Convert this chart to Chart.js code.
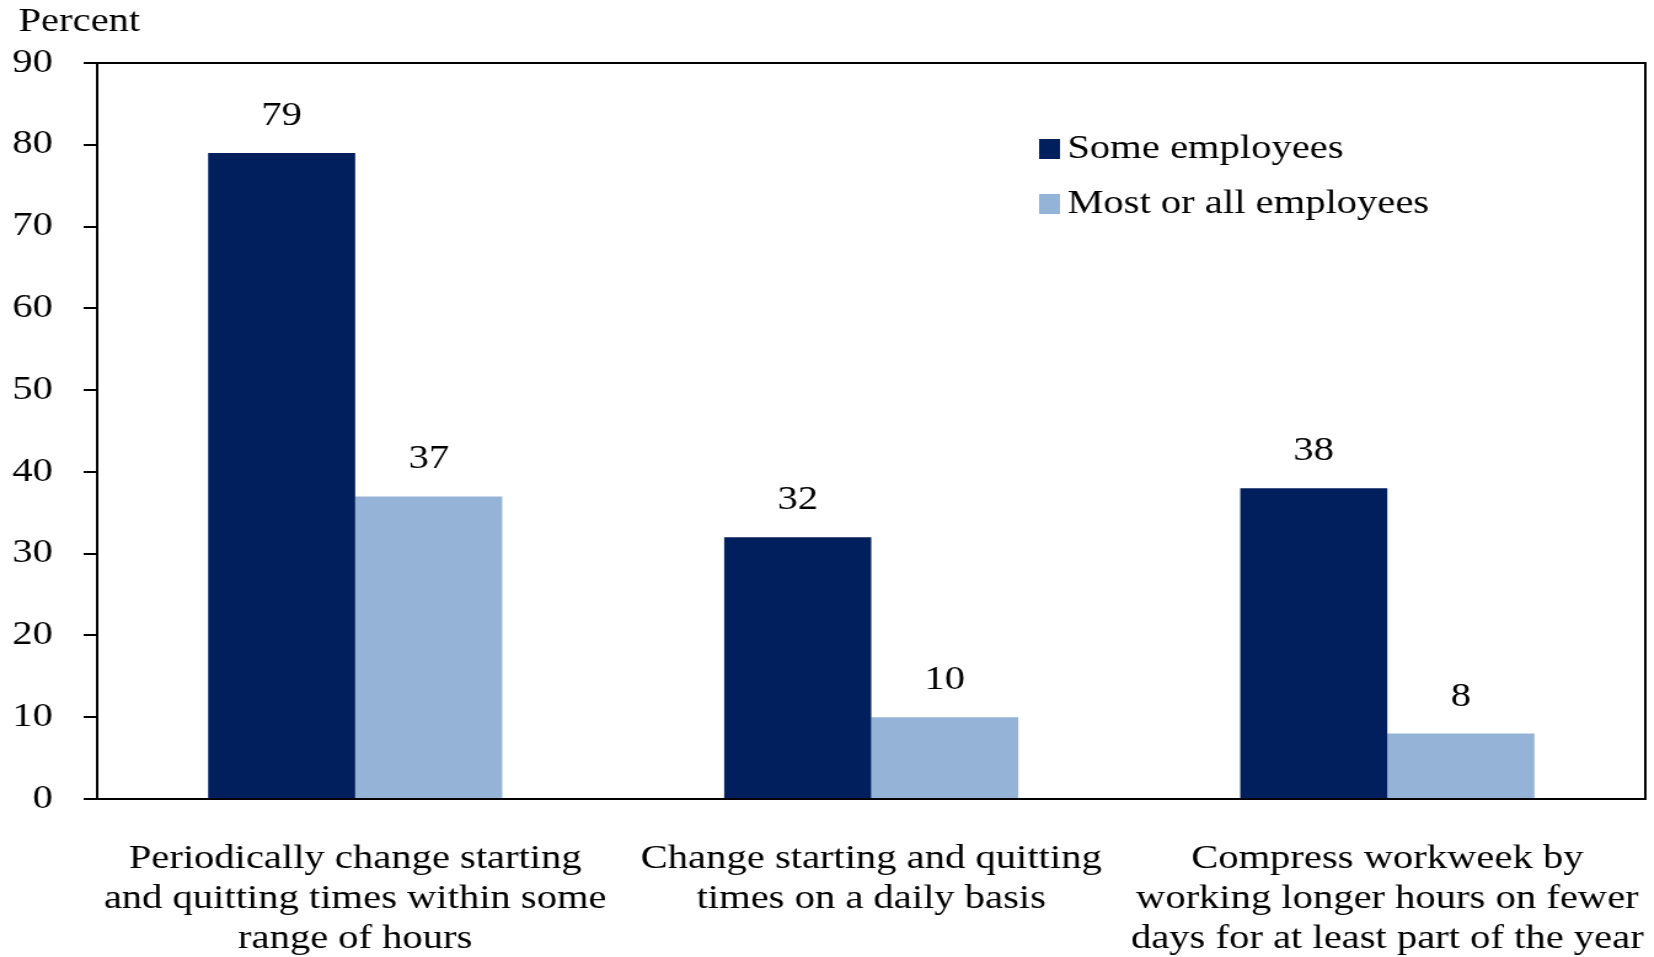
<!DOCTYPE html>
<html>
<head>
<meta charset="utf-8">
<script src="https://cdn.jsdelivr.net/npm/chart.js@4.4.0/dist/chart.umd.min.js"></script>
<style>
  html, body { margin: 0; padding: 0; background: #fff; overflow: hidden; }
  /* the reference is horizontally stretched, so draw narrow and stretch the canvas */
  #wrap { position: relative; width: 1345px; height: 957px; transform: scale(1.2297, 1); transform-origin: 0 0; }
</style>
</head>
<body>
<div id="wrap"><canvas id="chart" width="1345" height="957"></canvas></div>
<script>
// --- data ---
const categories = [
  ['Periodically change starting', 'and quitting times within some', 'range of hours'],
  ['Change starting and quitting', 'times on a daily basis'],
  ['Compress workweek by', 'working longer hours on fewer', 'days for at least part of the year']
];
const someEmployees = [79, 32, 38];
const mostOrAll = [37, 10, 8];
const seriesNames = ['Some employees', 'Most or all employees'];
const yTicks = [0, 10, 20, 30, 40, 50, 60, 70, 80, 90];

const FONT = '"Liberation Serif", "Times New Roman", serif';
const DARK = '#001f5c';
const LIGHT = '#95b3d7';

// value labels above bars
const valueLabels = {
  id: 'valueLabels',
  afterDatasetsDraw(chart) {
    const ctx = chart.ctx;
    ctx.save();
    ctx.font = '33px ' + FONT;
    ctx.fillStyle = '#000';
    ctx.textAlign = 'center';
    ctx.textBaseline = 'alphabetic';
    chart.data.datasets.forEach((ds, di) => {
      chart.getDatasetMeta(di).data.forEach((bar, i) => {
        ctx.fillText(ds.data[i], bar.x, bar.y - 28);
      });
    });
    ctx.restore();
  }
};

// top + right frame lines, "Percent" title, legend inside plot
const frame = {
  id: 'frame',
  afterDraw(chart) {
    const ctx = chart.ctx;
    const a = chart.chartArea;
    ctx.save();
    ctx.strokeStyle = '#000';
    ctx.lineWidth = 2;
    ctx.beginPath();
    ctx.moveTo(a.left - 11, a.top);
    ctx.lineTo(a.right, a.top);
    ctx.lineTo(a.right, a.bottom);
    ctx.stroke();

    ctx.fillStyle = '#000';
    ctx.font = '33px ' + FONT;
    ctx.textAlign = 'left';
    ctx.textBaseline = 'middle';
    ctx.fillText('Percent', 15, 22);

    // legend
    const lx = 845, ly = [149, 204];
    chart.data.datasets.forEach((ds, i) => {
      ctx.fillStyle = ds.backgroundColor;
      ctx.fillRect(lx, ly[i] - 10, 17, 20);
      ctx.fillStyle = '#000';
      ctx.fillText(seriesNames[i], lx + 23, ly[i]);
    });
    ctx.restore();
  }
};

new Chart(document.getElementById('chart'), {
  type: 'bar',
  data: {
    labels: categories,
    datasets: [
      { label: seriesNames[0], data: someEmployees, backgroundColor: DARK },
      { label: seriesNames[1], data: mostOrAll, backgroundColor: LIGHT }
    ]
  },
  options: {
    responsive: false,
    animation: false,
    devicePixelRatio: 1,
    layout: { padding: { top: 63, right: 7, left: 0, bottom: 0 } },
    plugins: { legend: { display: false }, tooltip: { enabled: false } },
    datasets: { bar: { categoryPercentage: 0.57, barPercentage: 1.0 } },
    scales: {
      x: {
        grid: { display: false, drawTicks: false },
        border: { display: true, color: '#000', width: 2 },
        ticks: {
          color: '#000',
          padding: 40,
          maxRotation: 0,
          autoSkip: false,
          font: { family: FONT, size: 33, lineHeight: 1.22 }
        },
        afterFit(scale) {
          scale.height = 158;
          // long last label must not shrink the plot
          scale.paddingLeft = 0;
          scale.paddingRight = 0;
        }
      },
      y: {
        min: 0,
        max: 90,
        afterBuildTicks(scale) { scale.ticks = yTicks.map(v => ({ value: v })); },
        grid: { drawOnChartArea: false, drawTicks: true, tickLength: 11, color: '#000', lineWidth: 2 },
        border: { display: true, color: '#000', width: 2 },
        ticks: {
          color: '#000',
          padding: 25,
          font: { family: FONT, size: 33 }
        },
        afterFit(scale) { scale.width = 79; }
      }
    }
  },
  plugins: [valueLabels, frame]
});
</script>
</body>
</html>
